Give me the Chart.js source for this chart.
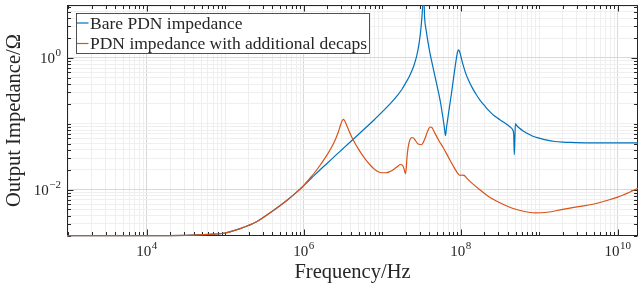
<!DOCTYPE html>
<html><head><meta charset="utf-8">
<script src="https://cdn.jsdelivr.net/npm/chart.js@4/dist/chart.umd.min.js"></script>
<style>html,body{margin:0;padding:0;background:#fff;}canvas{display:block;}</style>
</head><body>
<canvas id="c" width="639" height="288"></canvas>
<script>
// ---- data ----
const bareFreq = [9e2, 1e4, 3.16e4, 6.31e4, 1e5, 1.585e5, 2.512e5, 3.981e5, 6.31e5, 7.943e5, 1e6, 1.259e6, 1.585e6, 1.995e6, 2.512e6, 3.162e6, 3.981e6, 5.012e6, 6.31e6, 7.943e6, 1e7, 1.259e7, 1.585e7, 1.778e7, 1.995e7, 2.239e7, 2.512e7, 2.754e7, 2.951e7, 3.09e7, 3.199e7, 3.311e7, 3.388e7, 3.467e7, 3.63e7, 3.98e7, 4.47e7, 5.01e7, 5.5e7, 5.89e7, 6.17e7, 6.4e7, 6.61e7, 7.08e7, 7.59e7, 8.13e7, 8.71e7, 9.12e7, 9.44e7, 9.77e7, 1.047e8, 1.148e8, 1.259e8, 1.413e8, 1.585e8, 1.778e8, 1.995e8, 2.239e8, 2.512e8, 2.818e8, 3.162e8, 3.548e8, 3.981e8, 4.365e8, 4.624e8, 4.742e8, 4.819e8, 4.898e8, 4.977e8, 5.129e8, 5.623e8, 6.31e8, 7.079e8, 8.318e8, 1e9, 1.259e9, 1.585e9, 1.995e9, 2.512e9, 3.981e9, 1e10, 2e10];
const bareZ = [2.0e-3, 2.0e-3, 2.02e-3, 2.09e-3, 2.19e-3, 2.57e-3, 3.24e-3, 4.68e-3, 7.08e-3, 8.9e-3, 1.148e-2, 1.496e-2, 1.95e-2, 2.51e-2, 3.24e-2, 4.17e-2, 5.37e-2, 6.92e-2, 8.91e-2, 0.115, 0.151, 0.2, 0.275, 0.331, 0.417, 0.537, 0.741, 1.07, 1.66, 2.51, 3.98, 7.08, 8.9, 4.17, 2.63, 1.35, 0.692, 0.372, 0.219, 0.132, 0.0912, 0.066, 0.0891, 0.158, 0.275, 0.501, 0.891, 1.23, 1.32, 1.2, 0.871, 0.603, 0.457, 0.347, 0.275, 0.224, 0.191, 0.162, 0.141, 0.126, 0.115, 0.105, 0.0955, 0.087, 0.0794, 0.0676, 0.0339, 0.0562, 0.1, 0.0955, 0.0851, 0.0767, 0.0708, 0.0646, 0.0603, 0.0562, 0.0537, 0.0525, 0.0519, 0.0513, 0.0513, 0.0513];
const decapFreq = [9e2, 1e4, 3.16e4, 6.31e4, 1e5, 1.585e5, 2.512e5, 3.981e5, 6.31e5, 7.943e5, 1e6, 1.122e6, 1.259e6, 1.413e6, 1.585e6, 1.778e6, 1.995e6, 2.239e6, 2.512e6, 2.754e6, 2.951e6, 3.09e6, 3.199e6, 3.311e6, 3.548e6, 3.981e6, 4.467e6, 5.012e6, 5.623e6, 6.31e6, 7.079e6, 7.943e6, 8.913e6, 1e7, 1.122e7, 1.259e7, 1.413e7, 1.585e7, 1.698e7, 1.82e7, 1.905e7, 1.972e7, 2.018e7, 2.089e7, 2.188e7, 2.317e7, 2.455e7, 2.63e7, 2.884e7, 3.162e7, 3.467e7, 3.802e7, 4.074e7, 4.315e7, 4.677e7, 5.248e7, 6.026e7, 6.918e7, 7.943e7, 8.913e7, 9.772e7, 1.047e8, 1.109e8, 1.202e8, 1.413e8, 1.738e8, 2.239e8, 3.162e8, 4.467e8, 6.31e8, 8.913e8, 1.259e9, 1.995e9, 3.162e9, 5.012e9, 7.079e9, 1e10, 1.413e10, 1.995e10];
const decapZ = [2.0e-3, 2.0e-3, 2.02e-3, 2.09e-3, 2.19e-3, 2.57e-3, 3.24e-3, 4.68e-3, 7.08e-3, 8.9e-3, 1.148e-2, 1.35e-2, 1.58e-2, 1.88e-2, 2.26e-2, 2.75e-2, 3.39e-2, 4.27e-2, 5.62e-2, 7.41e-2, 9.55e-2, 0.111, 0.116, 0.112, 0.0933, 0.0676, 0.0513, 0.0407, 0.0331, 0.0275, 0.0234, 0.0204, 0.0186, 0.018, 0.018, 0.0188, 0.0204, 0.0226, 0.024, 0.0232, 0.0204, 0.0174, 0.02, 0.0347, 0.0501, 0.0603, 0.0617, 0.0562, 0.049, 0.0479, 0.0575, 0.0776, 0.0891, 0.0871, 0.0724, 0.0562, 0.0427, 0.0316, 0.0234, 0.0186, 0.0164, 0.0166, 0.0164, 0.0148, 0.0123, 0.01, 0.00794, 0.00631, 0.00525, 0.00468, 0.00442, 0.00452, 0.00501, 0.0055, 0.00603, 0.00676, 0.00767, 0.00912, 0.0111];
const seriesNames = ['Bare PDN impedance', 'PDN impedance with additional decaps'];
const xTickExponents = [4, 6, 8, 10];
const yTickExponents = [-2, 0];
const xTitle = 'Frequency/Hz';
const yTitle = 'Output Impedance/\u03A9';

// ---- styling ----
const FONT = '"Liberation Serif", "Times New Roman", serif';
const BLUE = '#0072BD', ORANGE = '#D95319', AXIS = '#262626';
const GRID_MAJOR = '#d9d9d9', GRID_MINOR = '#efefef';

function toPoints(fs, zs) { return fs.map((f, i) => ({x: f, y: zs[i]})); }

function logTicks(scale) {
  const t = [];
  for (let e = -4; e <= 11; e++) for (let k = 1; k < 10; k++) {
    const v = k * Math.pow(10, e);
    if (v >= scale.min * 0.9999 && v <= scale.max * 1.0001) t.push({value: v});
  }
  scale.ticks = t;
}
function isLabeled(v, list) {
  const e = Math.log10(v), r = Math.round(e);
  return Math.abs(e - r) < 1e-6 && list.includes(r);
}
function sup(e) { return String(e).replace('-', '\u2212'); }

function drawPow(ctx, e, x, y, align) {
  ctx.font = '15px ' + FONT;
  const wb = ctx.measureText('10').width;
  ctx.font = '11px ' + FONT;
  const we = ctx.measureText(sup(e)).width;
  const tot = wb + we + 0.5;
  const x0 = align === 'center' ? x - tot / 2 : x - tot;
  ctx.fillStyle = AXIS;
  ctx.textAlign = 'left';
  ctx.textBaseline = 'alphabetic';
  ctx.font = '15px ' + FONT;
  ctx.fillText('10', x0, y + 5);
  ctx.font = '11px ' + FONT;
  ctx.fillText(sup(e), x0 + wb + 0.5, y - 2);
}

const frame = {
  id: 'frame',
  beforeDatasetsDraw(chart) {
    const {ctx, chartArea: a, scales: {x, y}} = chart;
    ctx.save();
    ctx.strokeStyle = AXIS; ctx.lineWidth = 1;
    const L = Math.round(a.left) + 0.5, R = Math.round(a.right) - 0.5;
    const T = Math.round(a.top) + 0.5, B = Math.round(a.bottom) - 0.5;
    ctx.strokeRect(L, T, R - L, B - T);
    ctx.beginPath();
    x.ticks.forEach(t => {
      const px = Math.round(x.getPixelForValue(t.value)) + 0.5;
      const len = isLabeled(t.value, xTickExponents) ? 6 : 3.5;
      ctx.moveTo(px, B); ctx.lineTo(px, B - len);
      ctx.moveTo(px, T); ctx.lineTo(px, T + len);
    });
    y.ticks.forEach(t => {
      const py = Math.round(y.getPixelForValue(t.value)) + 0.5;
      const len = isLabeled(t.value, yTickExponents) ? 6 : 3.5;
      ctx.moveTo(L, py); ctx.lineTo(L + len, py);
      ctx.moveTo(R, py); ctx.lineTo(R - len, py);
    });
    ctx.stroke();
    ctx.restore();
  }
};

const decor = {
  id: 'decor',
  afterDraw(chart) {
    const {ctx, chartArea: a, scales: {x, y}} = chart;
    ctx.save();
    xTickExponents.forEach(e => drawPow(ctx, e, x.getPixelForValue(Math.pow(10, e)), 251, 'center'));
    yTickExponents.forEach(e => drawPow(ctx, e, 61, y.getPixelForValue(Math.pow(10, e)), 'right'));
    ctx.fillStyle = AXIS;
    ctx.font = '20.5px ' + FONT;
    ctx.textAlign = 'center'; ctx.textBaseline = 'middle';
    ctx.fillText(xTitle, (a.left + a.right) / 2, 273);
    ctx.save();
    ctx.translate(15, (a.top + a.bottom) / 2);
    ctx.rotate(-Math.PI / 2);
    ctx.fillText(yTitle, 0, 0);
    ctx.restore();
    // legend
    const lx = 76.5, ly = 13.5, lw = 293, lh = 40;
    ctx.fillStyle = '#fff';
    ctx.fillRect(lx, ly, lw, lh);
    ctx.strokeStyle = AXIS; ctx.lineWidth = 0.8;
    ctx.strokeRect(lx, ly, lw, lh);
    const cols = [BLUE, ORANGE], rows = [23, 43.5];
    ctx.font = '17.5px ' + FONT;
    ctx.textAlign = 'left'; ctx.textBaseline = 'middle';
    seriesNames.forEach((n, i) => {
      ctx.strokeStyle = cols[i]; ctx.lineWidth = 1.2;
      ctx.beginPath(); ctx.moveTo(77, rows[i]); ctx.lineTo(88.5, rows[i]); ctx.stroke();
      ctx.fillStyle = AXIS;
      ctx.fillText(n, 90, rows[i] + 1);
    });
    ctx.restore();
  }
};

const gridColor = list => c => (c.tick && isLabeled(c.tick.value, list)) ? GRID_MAJOR : GRID_MINOR;
const lineStyle = {borderWidth: 1.2, pointRadius: 0, cubicInterpolationMode: 'monotone', clip: {left: 0, top: 0, right: 0, bottom: 1}};

new Chart(document.getElementById('c'), {
  type: 'line',
  data: {
    datasets: [
      Object.assign({label: seriesNames[1], data: toPoints(decapFreq, decapZ), borderColor: ORANGE, order: 0}, lineStyle),
      Object.assign({label: seriesNames[0], data: toPoints(bareFreq, bareZ), borderColor: BLUE, order: 1}, lineStyle)
    ]
  },
  options: {
    responsive: false, animation: false, devicePixelRatio: 1,
    layout: {padding: {top: 5, right: 1, left: 0, bottom: 0}},
    plugins: {legend: {display: false}, tooltip: {enabled: false}},
    scales: {
      x: {
        type: 'logarithmic', position: 'bottom', min: 966, max: 1.815e10,
        afterBuildTicks: logTicks, afterFit: s => { s.height = 52; },
        ticks: {display: false}, border: {display: false},
        grid: {color: gridColor(xTickExponents), lineWidth: 1, drawTicks: false}
      },
      y: {
        type: 'logarithmic', position: 'left', min: 1.97e-3, max: 6.35,
        afterBuildTicks: logTicks, afterFit: s => { s.width = 67; },
        ticks: {display: false}, border: {display: false},
        grid: {color: gridColor(yTickExponents), lineWidth: 1, drawTicks: false}
      }
    }
  },
  plugins: [frame, decor]
});
</script>
</body></html>
